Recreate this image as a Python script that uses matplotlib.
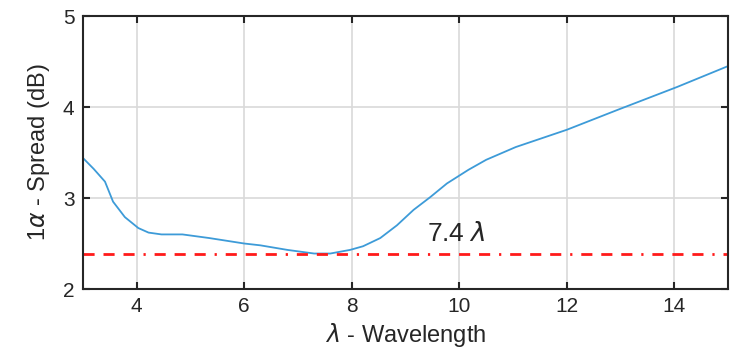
import matplotlib.pyplot as plt
import numpy as np

plt.rcParams['font.family'] = ['Liberation Sans', 'DejaVu Sans']
plt.rcParams['mathtext.fontset'] = 'dejavusans'

# data
wavelength = [3.0, 3.2, 3.41, 3.56, 3.78, 4.03, 4.22, 4.46, 4.85, 5.35, 6.0, 6.3, 6.8, 7.3,
              7.6, 7.97, 8.21, 8.53, 8.84, 9.15, 9.46, 9.77, 10.17, 10.5, 11.05, 12.0,
              12.95, 14.05, 15.0]
spread = [3.44, 3.32, 3.18, 2.96, 2.79, 2.67, 2.62, 2.60, 2.60, 2.56, 2.50, 2.48, 2.43, 2.39,
          2.39, 2.43, 2.47, 2.56, 2.70, 2.87, 3.01, 3.16, 3.31, 3.42, 3.56, 3.75,
          3.97, 4.22, 4.45]
min_level = 2.385
label_txt = '7.4 $\\lambda$'
xticks = [4, 6, 8, 10, 12, 14]
yticks = [2, 3, 4, 5]

fig = plt.figure(figsize=(7.34, 3.64), dpi=100)
ax = fig.add_axes([0.113, 0.206, 0.879, 0.75])

ax.plot(wavelength, spread, color='#3d9bd8', linewidth=1.3)
ax.axhline(min_level, color='#ff1a1a', linewidth=2,
           linestyle=(0, (4, 3.2, 4, 3.2, 4, 3.2, 0.8, 3.2)))
ax.text(9.4, 2.6, label_txt, fontsize=19, color='#262626', va='center', ha='left')

ax.set_xlim(3, 15)
ax.set_ylim(2, 5)
ax.set_xticks(xticks)
ax.set_yticks(yticks)
ax.grid(color='#d9d9d9', linewidth=1.2)
ax.set_axisbelow(True)
ax.tick_params(direction='in', length=5, width=1.5, colors='#262626',
               labelsize=15, top=True, right=True, pad=6)
for s in ax.spines.values():
    s.set_linewidth(1.5)
    s.set_color('#262626')

ax.set_xlabel('$\\lambda$ - Wavelength', fontsize=17, color='#262626', labelpad=3)
ax.set_ylabel('1$\\alpha$ - Spread (dB)', fontsize=17, color='#262626', labelpad=8)

fig.savefig('out.png', dpi=100)
